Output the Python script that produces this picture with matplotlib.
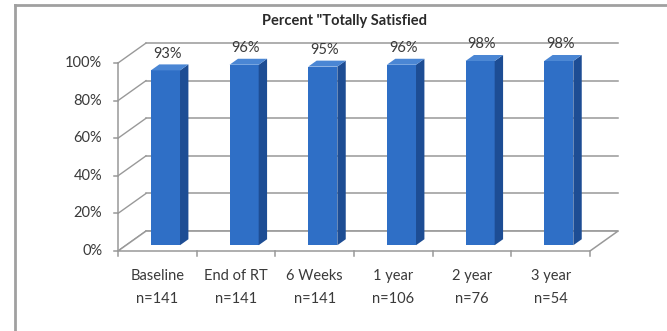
import matplotlib.pyplot as plt
from matplotlib.patches import Polygon
from matplotlib.lines import Line2D

plt.rcParams['font.family'] = ['Lato', 'DejaVu Sans']

categories = ["Baseline", "End of RT", "6 Weeks", "1 year", "2 year", "3 year"]
n_labels = ["n=141", "n=141", "n=141", "n=106", "n=76", "n=54"]
values = [93, 96, 95, 96, 98, 98]
yticks = [0, 20, 40, 60, 80, 100]

# fake 3d depth (category units, percent units)
DX = 0.356
DY = 10.6
d0, d1 = 0.29, 0.59   # bar depth range as fraction of full depth
bw = 0.37             # bar width

fig = plt.figure(figsize=(6.67, 3.31), dpi=100)
ax = fig.add_axes([118/667, 1-251/331, 472/667, 188/331])
ax.set_xlim(0, 6)
ax.set_ylim(0, 100)
ax.axis('off')

grid_c = '#999999'
txt_c = '#3a3a3a'
fs = 10.5

# floor
floor = Polygon([(0, 0), (6, 0), (6+DX, DY), (DX, DY)], closed=True,
                facecolor='white', edgecolor=grid_c, lw=1.1, clip_on=False, zorder=1)
ax.add_patch(floor)

# back wall gridlines + left wall diagonals
for t in yticks:
    ax.plot([DX, 6+DX], [t+DY, t+DY], color=grid_c, lw=1.1, clip_on=False, zorder=0)
    ax.plot([0, DX], [t, t+DY], color=grid_c, lw=1, clip_on=False, zorder=0)
    ax.plot([-0.05, 0], [t, t], color=grid_c, lw=1.1, clip_on=False)
    ax.text(-0.2, t, f"{t}%", ha='right', va='center', fontsize=fs, color=txt_c)
ax.plot([0, 0], [0, 100], color=grid_c, lw=1.1, clip_on=False)

# category ticks on front floor edge
for k in range(7):
    ax.plot([k, k], [0, -2.5], color=grid_c, lw=1.1, clip_on=False)

# bars
for i, v in enumerate(values):
    x0 = i + 0.5 - bw/2 + d0*DX
    y0 = d0*DY
    ddx = (d1-d0)*DX
    ddy = (d1-d0)*DY
    front = [(x0, y0), (x0+bw, y0), (x0+bw, y0+v), (x0, y0+v)]
    side = [(x0+bw, y0), (x0+bw+ddx, y0+ddy), (x0+bw+ddx, y0+v+ddy), (x0+bw, y0+v)]
    top = [(x0, y0+v), (x0+bw, y0+v), (x0+bw+ddx, y0+v+ddy), (x0+ddx, y0+v+ddy)]
    ax.add_patch(Polygon(front, facecolor='#2f6fc6', edgecolor='none', clip_on=False, zorder=3))
    ax.add_patch(Polygon(side, facecolor='#1d4d94', edgecolor='none', clip_on=False, zorder=3))
    ax.add_patch(Polygon(top, facecolor='#4a86d4', edgecolor='none', clip_on=False, zorder=3))
    ax.text(x0 + bw/2 + 0.02, v + 12, f"{v}%", ha='center', va='center',
            fontsize=fs, color=txt_c, zorder=4)
    ax.text(i + 0.5, -13.3, categories[i], ha='center', va='center', fontsize=fs, color=txt_c)
    ax.text(i + 0.5, -25.5, n_labels[i], ha='center', va='center', fontsize=fs, color=txt_c)

fig.text(345/667, 1-21/331, 'Percent "Totally Satisfied', ha='center', va='center',
         fontsize=10.5, fontweight='bold', color='#2a2a2a')

# frame border
fig.add_artist(Line2D([15/667, 1], [1-5/331, 1-5/331], color='#a0a0a0', lw=2))
fig.add_artist(Line2D([15/667, 15/667], [0, 1-5/331], color='#a0a0a0', lw=2))

fig.savefig('out.png', dpi=100)
